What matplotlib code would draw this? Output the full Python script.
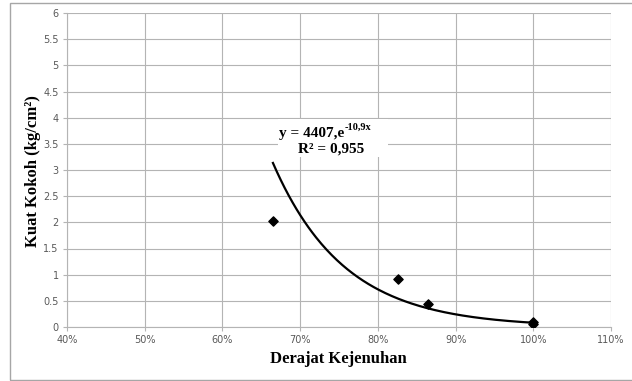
import numpy as np
import matplotlib
matplotlib.use("Agg")
import matplotlib.pyplot as plt
from matplotlib.patches import Rectangle
from matplotlib.ticker import FuncFormatter

# Data
saturation = [0.665, 0.826, 0.864, 1.000, 1.000]
strength = [2.03, 0.91, 0.44, 0.10, 0.06]
fit_a = 4407.0
fit_b = -10.9
eq_main = "y = 4407,e"
eq_exp = "-10,9x"
r2_label = "R² = 0,955"
x_ticks = [0.4, 0.5, 0.6, 0.7, 0.8, 0.9, 1.0, 1.1]
y_ticks = [0, 0.5, 1, 1.5, 2, 2.5, 3, 3.5, 4, 4.5, 5, 5.5, 6]

fig = plt.figure(figsize=(6.32, 3.81), dpi=100)
fig.patch.set_facecolor('white')
fig.patches.append(Rectangle((10/632, 1/381), 640/632, 377/381, transform=fig.transFigure,
                             fill=False, edgecolor='#a6a6a6', linewidth=1.0))

ax = fig.add_axes([67/632, 1-327/381, 544/632, 314/381])
ax.set_xlim(0.4, 1.1)
ax.set_ylim(0, 6)
ax.set_xticks(x_ticks)
ax.set_yticks(y_ticks)
ax.xaxis.set_major_formatter(FuncFormatter(lambda v, p: f"{v*100:.0f}%"))
ax.yaxis.set_major_formatter(FuncFormatter(lambda v, p: f"{v:g}"))
ax.grid(True, color='#b4b4b4', linewidth=0.8)
ax.set_axisbelow(True)
for s in ['top', 'right']:
    ax.spines[s].set_visible(False)
for s in ['left', 'bottom']:
    ax.spines[s].set_color('#b4b4b4')
    ax.spines[s].set_linewidth(0.8)
ax.tick_params(axis='both', labelsize=7, colors='#595959', length=3, width=0.8, pad=3)
ax.tick_params(axis='both', color='#b4b4b4')

# white label box behind trendline equation
ax.add_patch(Rectangle((0.671, 3.25), 0.142, 0.72, facecolor='white', edgecolor='none', zorder=2))

xs = np.linspace(min(saturation), max(saturation), 200)
ax.plot(xs, fit_a*np.exp(fit_b*xs), color='black', linewidth=1.6, zorder=3)
ax.scatter(saturation, strength, marker='D', s=22, color='black', zorder=4)

t1 = ax.text(0.715, 3.70, eq_main, fontsize=11, fontweight='bold',
             family='Liberation Serif', ha='center', va='center', zorder=5)
ax.annotate(eq_exp, xy=(1.0, 0.62), xycoords=t1, fontsize=7.5, fontweight='bold',
            family='Liberation Serif', ha='left', va='bottom', zorder=5)
ax.text(0.740, 3.40, r2_label, fontsize=11, fontweight='bold',
        family='Liberation Serif', ha='center', va='center', zorder=5)

fig.text(338/632, 1-359/381, "Derajat Kejenuhan", fontsize=12, fontweight='bold',
         family='Liberation Serif', ha='center', va='center')
fig.text(33/632, 1-171/381, "Kuat Kokoh (kg/cm²)", fontsize=12, fontweight='bold',
         family='Liberation Serif', ha='center', va='center', rotation=90)

fig.savefig("out.png", dpi=100, facecolor='white')
